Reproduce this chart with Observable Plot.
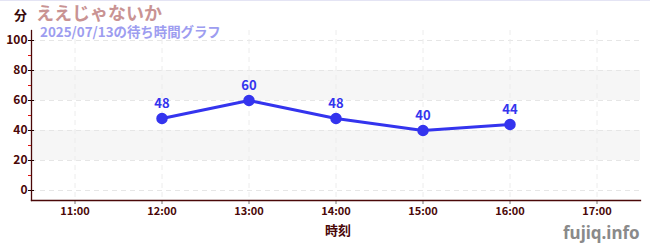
<!DOCTYPE html>
<html>
<head>
<meta charset="utf-8">
<script src="https://cdn.jsdelivr.net/npm/d3@7"></script>
<script src="https://cdn.jsdelivr.net/npm/@observablehq/plot@0.6"></script>
<style>
  html, body { margin: 0; padding: 0; background: #fff; }
  #wrap { position: relative; width: 650px; height: 250px; overflow: hidden;
          font-family: "Noto Sans CJK JP", "Noto Sans", sans-serif; }
  #topline { position: absolute; left: 0; top: 0; width: 650px; height: 1px; background: #e4e4f4; }
  .lbl { position: absolute; white-space: nowrap; font-weight: bold; line-height: 1; }
  #title { left: 36px; top: 3px; font-size: 18px; color: #c99393; }
  #subtitle { left: 40px; top: 25px; font-size: 13.4px; color: #9d9df0; }
  #unit { left: 14px; top: 8px; font-size: 13px; color: #3a0a0a; }
  #xlabel { left: 325px; top: 223px; font-size: 13px; color: #4a0808; }
  #site { left: 563px; top: 224px; font-size: 17px; color: #8a8a8a; font-family: "Noto Sans", sans-serif; }
  svg { position: absolute; left: 0; top: 0; }
</style>
</head>
<body>
<div id="wrap">
  <div id="plot"></div>
  <div id="topline"></div>
  <div class="lbl" id="unit">分</div>
  <div class="lbl" id="title">ええじゃないか</div>
  <div class="lbl" id="subtitle">2025/07/13の待ち時間グラフ</div>
  <div class="lbl" id="xlabel">時刻</div>
  <div class="lbl" id="site">fujiq.info</div>
</div>
<script>
// Wait times (minutes) by hour of day
const hours = [12, 13, 14, 15, 16];
const waits = [48, 60, 48, 40, 44];

// Axis ticks
const xTicks = [11, 12, 13, 14, 15, 16, 17];
const xTickLabels = ["11:00", "12:00", "13:00", "14:00", "15:00", "16:00", "17:00"];
const yTicks = [0, 20, 40, 60, 80, 100];
const yMinorTicks = [10, 30, 50, 70, 90];

// Shaded horizontal bands
const bandLow = [20, 60];
const bandHigh = [40, 80];

const points = hours.map((h, i) => ({hour: h, wait: waits[i]}));
const bands = bandLow.map((lo, i) => ({lo, hi: bandHigh[i]}));

const axisColor = "#4a0808";
const lineColor = "#3434ee";
const noLabel = () => "";

const chart = Plot.plot({
  width: 650,
  height: 250,
  marginLeft: 31,
  marginRight: 10,
  marginTop: 30,
  marginBottom: 50,
  style: {fontFamily: "'Noto Sans CJK JP', 'Noto Sans', sans-serif", background: "transparent"},
  x: {domain: [10.5, 17.5]},
  y: {domain: [-6.67, 106.67]},
  marks: [
    Plot.rectY(bands, {y1: "lo", y2: "hi", fill: "#f6f6f6"}),
    Plot.gridY(yTicks, {stroke: "#e6e6e6", strokeOpacity: 1, strokeDasharray: "5,4"}),
    Plot.gridX(xTicks, {stroke: "#ececec", strokeOpacity: 1, strokeDasharray: "5,4"}),
    // major y ticks cross the axis line; minor ones sit outside in red
    Plot.axisY({ticks: yTicks, tickSize: 6, dx: 3, stroke: "#1a0000", strokeOpacity: 1, tickFormat: noLabel, label: null}),
    Plot.axisY({ticks: yMinorTicks, tickSize: 3, stroke: "#e01010", strokeOpacity: 1, tickFormat: noLabel, label: null}),
    Plot.axisY({ticks: yTicks, tickSize: 0, tickPadding: 4, fill: axisColor, fontSize: 12, fontWeight: "bold", label: null}),
    Plot.axisX({ticks: xTicks, tickFormat: (d) => xTickLabels[xTicks.indexOf(d)], tickSize: 4, tickPadding: 3, stroke: "#777", fill: axisColor, fontSize: 11, fontWeight: "bold", label: null}),
    Plot.frame({anchor: "left", stroke: axisColor, strokeWidth: 1.3}),
    Plot.frame({anchor: "bottom", stroke: axisColor, strokeWidth: 1.3}),
    Plot.line(points, {x: "hour", y: "wait", stroke: lineColor, strokeWidth: 3}),
    Plot.dot(points, {x: "hour", y: "wait", r: 5, fill: lineColor, stroke: lineColor}),
    Plot.text(points, {x: "hour", y: "wait", text: "wait", dy: -15, fill: lineColor, fontSize: 13, fontWeight: "bold"})
  ]
});
document.getElementById("plot").appendChild(chart);
</script>
</body>
</html>
